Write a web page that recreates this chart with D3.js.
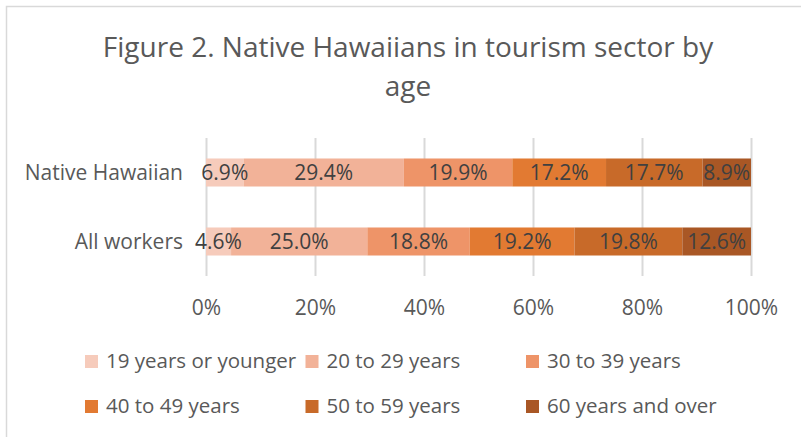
<!DOCTYPE html>
<html>
<head>
<meta charset="utf-8">
<script src="https://cdn.jsdelivr.net/npm/d3@7"></script>
<style>
  html, body { margin: 0; padding: 0; background: #fff; }
  svg { display: block; }
  text { font-family: "Open Sans", "Noto Sans", sans-serif; }
</style>
</head>
<body>
<svg id="chart" width="801" height="437"></svg>
<script>
// ---- data ----
const titleLines = ["Figure 2. Native Hawaiians in tourism sector by", "age"];
const categories = ["Native Hawaiian", "All workers"];
const ageGroups = ["19 years or younger", "20 to 29 years", "30 to 39 years",
                   "40 to 49 years", "50 to 59 years", "60 years and over"];
const nativeHawaiian = [6.9, 29.4, 19.9, 17.2, 17.7, 8.9];
const allWorkers = [4.6, 25.0, 18.8, 19.2, 19.8, 12.6];
const tickValues = [0, 20, 40, 60, 80, 100];
const tickLabels = ["0%", "20%", "40%", "60%", "80%", "100%"];
const colors = ["#F6CBBB", "#F2B298", "#EE9468", "#E27A32", "#C86A29", "#A95725"];

// ---- build table ----
const seriesByCat = [nativeHawaiian, allWorkers];
const table = categories.map((c, i) => {
  const row = { category: c };
  ageGroups.forEach((g, j) => row[g] = seriesByCat[i][j]);
  return row;
});
const stacked = d3.stack().keys(ageGroups)(table);

const svg = d3.select("#chart");

// frame
svg.append("rect")
  .attr("x", 6.5).attr("y", 6.5)
  .attr("width", 900).attr("height", 600)
  .attr("fill", "none").attr("stroke", "#D9D9D9").attr("stroke-width", 1.5);

// scales
const x = d3.scaleLinear().domain([0, 100]).range([206, 751]);
const plotTop = 138, plotBottom = 276;
const y = d3.scaleBand().domain(categories).range([plotTop, plotBottom])
  .paddingInner(0.594).paddingOuter(0.297);
const color = d3.scaleOrdinal().domain(ageGroups).range(colors);

// title
svg.append("g").selectAll("text").data(titleLines).join("text")
  .attr("x", 408).attr("y", (d, i) => 57 + i * 39)
  .attr("text-anchor", "middle")
  .attr("fill", "#595959")
  .style("font-size", "28px")
  .text(d => d);

// gridlines + x axis
const xAxis = d3.axisBottom(x)
  .tickValues(tickValues)
  .tickFormat((d, i) => tickLabels[i])
  .tickSize(-(plotBottom - plotTop))
  .tickPadding(0);
const ax = svg.append("g").attr("transform", `translate(0,${plotBottom})`).call(xAxis);
ax.select(".domain").remove();
ax.selectAll(".tick line").attr("stroke", "#D9D9D9").attr("stroke-width", 2);
ax.selectAll(".tick text")
  .attr("y", 39).attr("dy", null)
  .attr("fill", "#595959")
  .style("font-size", "21px");

// bars
const layers = svg.append("g").selectAll("g").data(stacked).join("g")
  .attr("fill", d => color(d.key));
layers.selectAll("rect").data(d => d).join("rect")
  .attr("x", d => x(d[0]))
  .attr("width", d => x(d[1]) - x(d[0]))
  .attr("y", d => y(d.data.category))
  .attr("height", y.bandwidth());

// data labels
svg.append("g").selectAll("g").data(stacked).join("g")
  .selectAll("text").data(d => d.map(v => ({ v, key: d.key }))).join("text")
  .attr("x", d => (x(d.v[0]) + x(d.v[1])) / 2)
  .attr("y", d => y(d.v.data.category) + y.bandwidth() / 2)
  .attr("dy", "0.35em")
  .attr("text-anchor", "middle")
  .attr("fill", "#404040")
  .style("font-size", "21px")
  .text(d => d.v.data[d.key].toFixed(1) + "%");

// category labels
svg.append("g").selectAll("text").data(categories).join("text")
  .attr("x", 183)
  .attr("y", d => y(d) + y.bandwidth() / 2)
  .attr("dy", "0.36em")
  .attr("text-anchor", "end")
  .attr("fill", "#595959")
  .style("font-size", "21px")
  .text(d => d);

// legend
const legend = svg.append("g").selectAll("g").data(ageGroups).join("g")
  .attr("transform", (d, i) => `translate(${85 + (i % 3) * 220.5},${355 + Math.floor(i / 3) * 45})`);
legend.append("rect").attr("width", 13).attr("height", 13).attr("fill", d => color(d));
legend.append("text")
  .attr("x", 21).attr("y", 12.5)
  .attr("fill", "#595959")
  .style("font-size", "20.5px")
  .text(d => d);
</script>
</body>
</html>
